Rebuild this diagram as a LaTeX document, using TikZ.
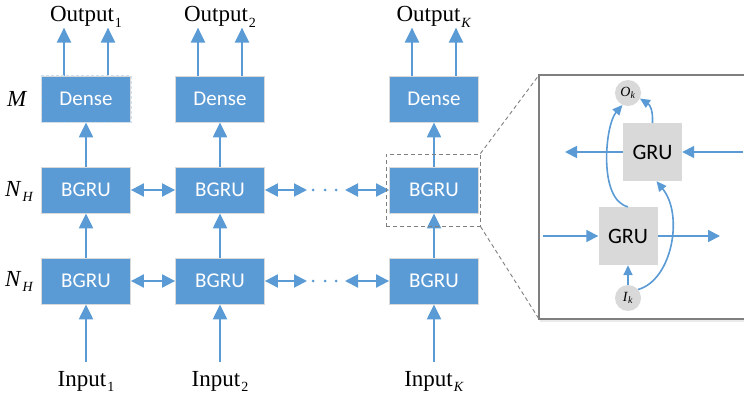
\documentclass[tikz,border=0pt]{standalone}
\usepackage{fontspec}
\setmainfont{Liberation Serif}
\newfontfamily\boxfont{Carlito}
\usetikzlibrary{arrows.meta}
\definecolor{netblue}{HTML}{5B9BD5}
\definecolor{netgray}{HTML}{D9D9D9}
\definecolor{rimgray}{HTML}{7F7F7F}
% low, small index after a label
\newcommand\lowsub[1]{\kern1pt\raisebox{-0.55ex}{\fontsize{14}{14}\selectfont #1}}
\tikzset{
  layerbox/.style={fill=netblue, draw=black!15, line width=0.8pt, minimum width=89pt, minimum height=46pt,
    inner sep=0pt, text=white, font=\boxfont\fontsize{21}{22}\selectfont},
  grubox/.style={fill=netgray, minimum width=59pt, minimum height=58pt, inner sep=0pt,
    font=\boxfont\fontsize{22}{24}\selectfont},
  ionode/.style={circle, fill=netgray, minimum size=26pt, inner sep=0pt, font=\fontsize{14}{14}\selectfont},
  lbl/.style={font=\fontsize{23}{25}\selectfont, inner sep=0pt},
  arr/.style={draw=netblue, line width=2.2pt, -{Triangle[width=14pt,length=15pt]}},
  darr/.style={draw=netblue, line width=2pt, {Triangle[width=13pt,length=13pt]}-{Triangle[width=13pt,length=13pt]}},
  sarr/.style={draw=netblue, line width=1.8pt, -{Triangle[width=12pt,length=12pt]}},
  carr/.style={draw=netblue, line width=1.6pt, -{Triangle[width=9pt,length=10pt]}},
  zoomline/.style={rimgray, line width=0.9pt, dash pattern=on 4pt off 3pt},
}
\begin{document}
\begin{tikzpicture}[x=1pt,y=-1pt]
\useasboundingbox (0,0) rectangle (744,396);
\clip (0,0) rectangle (744,396);
% the three columns of the stack
\foreach \c/\x/\s in {1/86/1, 2/220/2, K/434/\textit{K}} {
  \node[layerbox] (d\c) at (\x,99) {Dense};
  \node[layerbox] (b\c) at (\x,190) {BGRU};
  \node[layerbox] (a\c) at (\x,281) {BGRU};
  \node[lbl, anchor=base] (out\c) at (\x,22) {Output\lowsub{\s}};
  \node[lbl, anchor=base] (in\c) at (\x,386) {Input\lowsub{\s}};
  \coordinate (src\c) at (\x,362);
  \draw[arr] (src\c) -- (a\c.south);
  \draw[arr] (a\c.north) -- (b\c.south);
  \draw[arr] (b\c.north) -- (d\c.south);
  \draw[arr] ([xshift=-22pt]d\c.north) -- ++(0,-48);
  \draw[arr] ([xshift=22pt]d\c.north) -- ++(0,-48);
}
\draw[densely dashed, white!70!netblue, line width=0.8pt] (d1.north west) rectangle (d1.south east);
% layer labels
\node[lbl, anchor=base west] (lm) at (7,106) {\textit{M}};
\node[lbl, anchor=base west] (lh1) at (5,196) {\textit{N}\lowsub{\textit{H}}};
\node[lbl, anchor=base west] (lh2) at (5,286) {\textit{N}\lowsub{\textit{H}}};
% links along each layer
\foreach \r/\y in {b/190, a/281} {
  \coordinate (dl\r) at (307,\y);
  \coordinate (dr\r) at (345,\y);
  \draw[darr] (\r 1.east) -- (\r 2.west);
  \draw[darr] (\r 2.east) -- (dl\r);
  \draw[darr] (dr\r) -- (\r K.west);
  \foreach \x in {313,325,336}
    \fill[netblue] (\x,\y) circle (1.5);
}
% zoomed view of one BGRU
\node[draw=rimgray, dash pattern=on 4pt off 3pt, line width=0.9pt, minimum width=94pt, minimum height=72pt] (zr) at (433,190) {};
\coordinate (inNW) at (539,75);
\coordinate (inSW) at (539,319);
\draw[black!8, line width=2pt] (540,321) -- (760,321);
\draw[rimgray, line width=1.5pt, fill=white] (inNW) rectangle (760,319);
\draw[zoomline] (zr.north east) -- (inNW);
\draw[zoomline] (zr.south east) -- (inSW);
\node[grubox] (gt) at (652.5,152) {GRU};
\node[grubox] (gb) at (628,236) {GRU};
\node[ionode] (ok) at (628,93) {\textit{O}\textsubscript{\textit{k}}};
\node[ionode] (ik) at (628,298) {\textit{I}\textsubscript{\textit{k}}};
\coordinate (rin) at (743,152);
\coordinate (lout) at (565,152);
\coordinate (lin) at (543,236);
\coordinate (rout) at (720,236);
\draw[sarr] (rin) -- (gt.east);
\draw[sarr] (gt.west) -- (lout);
\draw[sarr] (lin) -- (gb.west);
\draw[sarr] (gb.east) -- (rout);
\draw[carr] (ik.north) -- (gb.south);
\draw[carr] (ik.40) .. controls (672,280) and (684,215) .. ([xshift=4pt]gt.south);
\draw[carr] (gb.north) .. controls (598,200) and (605,125) .. (ok.-115);
\draw[carr] (gt.north) .. controls (653,110) and (650,105) .. (ok.-25);
\end{tikzpicture}
\end{document}
